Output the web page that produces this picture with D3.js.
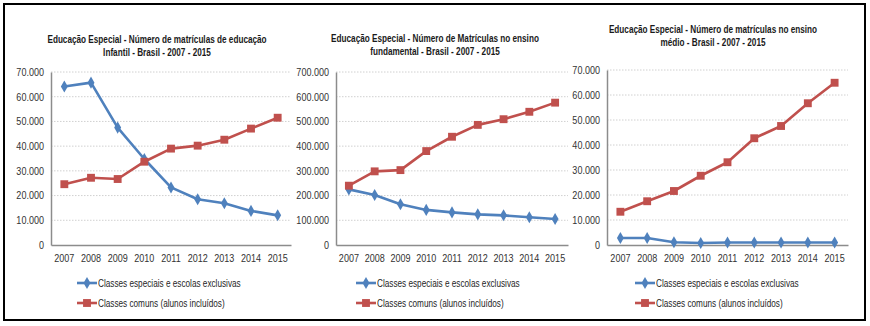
<!DOCTYPE html>
<html>
<head>
<meta charset="utf-8">
<script src="https://cdn.jsdelivr.net/npm/d3@7"></script>
<style>
  body { margin: 0; background: #fff; }
  svg text { font-family: "Liberation Sans", Arial, sans-serif; }
</style>
</head>
<body>
<svg id="canvas" width="870" height="326"></svg>
<script>
const years = ["2007", "2008", "2009", "2010", "2011", "2012", "2013", "2014", "2015"];
const seriesNames = ["Classes especiais e escolas exclusivas", "Classes comuns (alunos incluídos)"];

const infantilTitle = ["Educação Especial - Número de matrículas de educação", "Infantil  - Brasil - 2007 - 2015"];
const infantilEspeciais = [64100, 65700, 47500, 34800, 23300, 18500, 16900, 13800, 12000];
const infantilComuns = [24600, 27200, 26700, 33700, 39000, 40200, 42600, 47100, 51500];
const infantilTicks = [0, 10000, 20000, 30000, 40000, 50000, 60000, 70000];

const fundamentalTitle = ["Educação Especial - Número de Matrículas no ensino", "fundamental - Brasil - 2007 - 2015"];
const fundamentalEspeciais = [225000, 202000, 165000, 142000, 132000, 124000, 120000, 112000, 105000];
const fundamentalComuns = [240000, 298000, 303000, 380000, 438000, 486000, 509000, 539000, 576000];
const fundamentalTicks = [0, 100000, 200000, 300000, 400000, 500000, 600000, 700000];

const medioTitle = ["Educação Especial - Número de matrículas no ensino", "médio - Brasil - 2007 - 2015"];
const medioEspeciais = [2800, 2800, 1100, 800, 1000, 1000, 1000, 1000, 1000];
const medioComuns = [13300, 17500, 21600, 27700, 33100, 42700, 47600, 56700, 64900];
const medioTicks = [0, 10000, 20000, 30000, 40000, 50000, 60000, 70000];

const blue = "#4f81bd";
const red = "#c0504d";

const ptBR = d3.formatLocale({ decimal: ",", thousands: ".", grouping: [3], currency: ["R$", ""] });
const fmt = ptBR.format(",d");

const svg = d3.select("#canvas");

// outer frame
svg.append("rect")
    .attr("x", 4).attr("y", 4)
    .attr("width", 861).attr("height", 316)
    .attr("fill", "none")
    .attr("stroke", "#000")
    .attr("stroke-width", 2);

const diamond = d3.symbol().type(d3.symbolDiamond).size(42);
const square = d3.symbol().type(d3.symbolSquare).size(62);

// the original uses a narrow font, squeeze the glyphs horizontally
function condense(sel, factor) {
    sel.each(function() {
        const w = this.getComputedTextLength();
        this.setAttribute("textLength", w * factor);
        this.setAttribute("lengthAdjust", "spacingAndGlyphs");
    });
}

function drawChart(o) {
    const g = svg.append("g");

    const x = d3.scaleBand().domain(years).range([o.left, o.right]);
    const y = d3.scaleLinear().domain([0, d3.max(o.ticks)]).range([o.bottom, o.top]);

    // title (scaled group so the narrow look keeps a true bounding box)
    g.selectAll(".title")
        .data(o.title)
        .enter().append("text")
        .attr("class", "title")
        .attr("transform", (d, i) => `translate(${o.titleX},${o.titleY + i * 13}) scale(0.78,1)`)
        .attr("text-anchor", "middle")
        .attr("font-size", "10.5px")
        .attr("font-weight", "bold")
        .attr("fill", "#1a1a1a")
        .text(d => d);

    // gridlines
    g.selectAll(".grid")
        .data(o.ticks.filter(t => t > 0))
        .enter().append("line")
        .attr("x1", o.left).attr("x2", o.right)
        .attr("y1", d => y(d)).attr("y2", d => y(d))
        .attr("stroke", "#d0d0d0")
        .attr("stroke-width", 1)
        .attr("stroke-dasharray", "1.5,1.5");

    // y axis
    const yAxis = d3.axisLeft(y).tickValues(o.ticks).tickFormat(fmt).tickSize(0).tickPadding(7);
    const ya = g.append("g").attr("transform", `translate(${o.left},0)`).call(yAxis);
    ya.select(".domain").attr("stroke", "#8c8c8c").attr("stroke-width", 1.5);
    ya.selectAll("text").attr("font-size", "10.5px").attr("fill", "#333").call(condense, 0.86);

    // x axis
    const xAxis = d3.axisBottom(x).tickSize(0).tickPadding(10);
    const xa = g.append("g").attr("transform", `translate(0,${o.bottom})`).call(xAxis);
    xa.select(".domain").attr("stroke", "#8c8c8c").attr("stroke-width", 1.5);
    xa.selectAll("text").attr("font-size", "10.5px").attr("fill", "#333").call(condense, 0.86);

    const line = d3.line()
        .x((d, i) => x(years[i]) + x.bandwidth() / 2)
        .y(d => y(d));

    const series = [
        { values: o.especiais, color: blue, symbol: diamond },
        { values: o.comuns, color: red, symbol: square }
    ];

    series.forEach(s => {
        g.append("path")
            .datum(s.values)
            .attr("d", line)
            .attr("fill", "none")
            .attr("stroke", s.color)
            .attr("stroke-width", 2.6)
            .attr("stroke-linejoin", "round");
        g.selectAll(null)
            .data(s.values)
            .enter().append("path")
            .attr("d", s.symbol)
            .attr("transform", (d, i) => `translate(${x(years[i]) + x.bandwidth() / 2},${y(d)})`)
            .attr("fill", s.color);
    });

    // legend
    series.forEach((s, i) => {
        const ly = 283 + i * 20;
        g.append("line")
            .attr("x1", o.legendX).attr("x2", o.legendX + 20)
            .attr("y1", ly).attr("y2", ly)
            .attr("stroke", s.color)
            .attr("stroke-width", 2.6);
        g.append("path")
            .attr("d", s.symbol)
            .attr("transform", `translate(${o.legendX + 10},${ly})`)
            .attr("fill", s.color);
        g.append("text")
            .attr("x", o.legendX + 21)
            .attr("y", ly + 3.5)
            .attr("font-size", "10px")
            .attr("fill", "#262626")
            .text(seriesNames[i])
            .call(condense, 0.82);
    });
}

drawChart({
    title: infantilTitle, especiais: infantilEspeciais, comuns: infantilComuns, ticks: infantilTicks,
    left: 51, right: 291, top: 72, bottom: 245, titleX: 157, titleY: 43, legendX: 77
});
drawChart({
    title: fundamentalTitle, especiais: fundamentalEspeciais, comuns: fundamentalComuns, ticks: fundamentalTicks,
    left: 336, right: 568, top: 72, bottom: 245, titleX: 435, titleY: 42, legendX: 356
});
drawChart({
    title: medioTitle, especiais: medioEspeciais, comuns: medioComuns, ticks: medioTicks,
    left: 607, right: 848, top: 70, bottom: 245, titleX: 713, titleY: 33, legendX: 635
});
</script>
</body>
</html>
